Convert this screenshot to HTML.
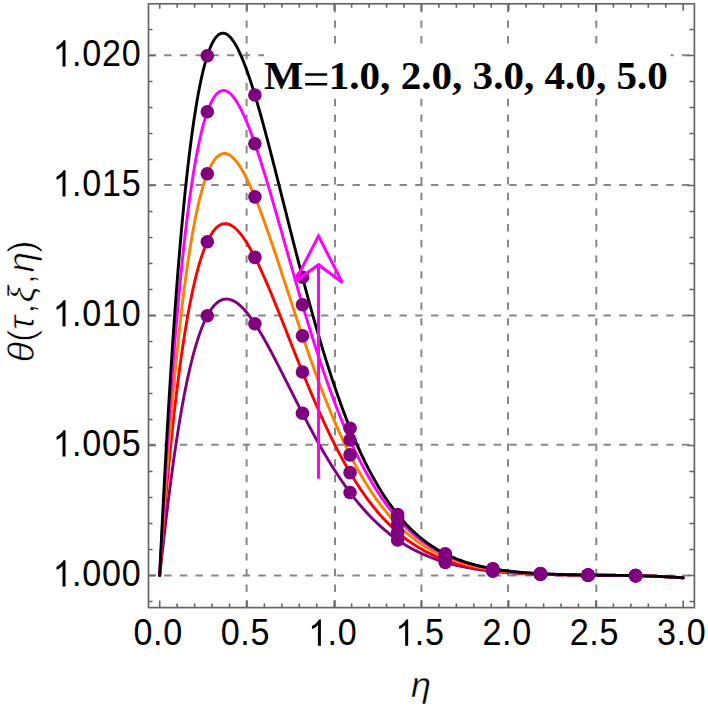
<!DOCTYPE html>
<html><head><meta charset="utf-8"><style>html,body{margin:0;padding:0;background:#fff;width:708px;height:707px;overflow:hidden}body{position:relative;font-family:"Liberation Sans",sans-serif}</style></head>
<body>
<svg width="708" height="707" viewBox="0 0 708 707" style="position:absolute;left:0;top:0">
<path d="M246.60 607.60V3.80M335.00 607.60V3.80M421.40 607.60V3.80M508.00 607.60V3.80M596.30 607.60V3.80" stroke="#888" stroke-width="2" stroke-dasharray="7.4 8.27" fill="none"/>
<path d="M148.5 575.40H694.40M148.5 444.80H694.40M148.5 315.60H694.40M148.5 185.00H694.40M148.5 55.30H694.40" stroke="#888" stroke-width="2" stroke-dasharray="7.4 8.29" fill="none"/>
<path d="M159.70 575.50 L159.92 573.65 L160.15 571.70 L160.37 569.72 L160.59 567.72 L160.82 565.71 L161.04 563.69 L161.27 561.67 L161.49 559.65 L161.71 557.63 L161.94 555.61 L162.16 553.59 L162.38 551.58 L162.61 549.57 L162.83 547.57 L163.06 545.57 L163.28 543.58 L163.50 541.59 L163.73 539.61 L163.95 537.63 L164.17 535.67 L164.40 533.71 L164.62 531.76 L164.85 529.81 L165.07 527.87 L165.29 525.94 L165.52 524.02 L165.74 522.11 L165.96 520.20 L166.19 518.31 L166.41 516.42 L166.64 514.54 L166.86 512.67 L167.08 510.80 L167.31 508.95 L167.53 507.10 L167.75 505.27 L167.98 503.44 L168.20 501.62 L168.42 499.81 L169.72 489.55 L171.01 479.59 L172.30 469.94 L173.59 460.60 L174.88 451.56 L176.17 442.84 L177.46 434.41 L178.75 426.30 L180.04 418.48 L181.33 410.95 L182.62 403.73 L183.91 396.79 L185.20 390.13 L186.49 383.76 L187.78 377.66 L189.07 371.83 L190.36 366.27 L191.65 360.97 L192.94 355.93 L194.23 351.14 L195.52 346.60 L196.81 342.30 L198.10 338.24 L199.39 334.41 L200.68 330.81 L201.97 327.44 L203.26 324.27 L204.55 321.33 L205.84 318.59 L207.13 316.05 L208.42 313.71 L209.71 311.56 L211.00 309.60 L212.29 307.83 L213.58 306.23 L214.87 304.81 L216.16 303.55 L217.45 302.46 L218.74 301.53 L220.03 300.76 L221.32 300.14 L222.61 299.66 L223.90 299.33 L225.19 299.13 L226.48 299.07 L227.77 299.14 L229.06 299.33 L230.35 299.65 L231.64 300.08 L232.93 300.62 L234.22 301.28 L235.51 302.04 L236.80 302.90 L238.09 303.86 L239.38 304.91 L240.67 306.06 L241.96 307.29 L243.25 308.61 L244.54 310.01 L245.83 311.48 L247.12 313.03 L248.42 314.65 L249.71 316.34 L251.00 318.10 L252.29 319.91 L253.58 321.78 L254.87 323.71 L256.16 325.70 L257.45 327.73 L258.74 329.81 L260.03 331.93 L261.32 334.10 L262.61 336.31 L263.90 338.55 L265.19 340.84 L266.48 343.15 L267.77 345.49 L269.06 347.86 L270.35 350.26 L271.64 352.68 L272.93 355.13 L274.22 357.59 L275.51 360.07 L276.80 362.57 L278.09 365.09 L279.38 367.61 L280.67 370.15 L281.96 372.69 L283.25 375.25 L284.54 377.81 L285.83 380.37 L287.12 382.94 L288.41 385.51 L289.70 388.07 L290.99 390.64 L292.28 393.21 L293.57 395.77 L294.86 398.33 L296.15 400.88 L297.44 403.42 L298.73 405.96 L300.02 408.49 L301.31 411.00 L302.60 413.51 L303.89 416.00 L305.18 418.49 L306.47 420.95 L307.76 423.41 L309.05 425.84 L310.34 428.27 L311.63 430.67 L312.92 433.06 L314.21 435.43 L315.50 437.78 L316.79 440.12 L318.08 442.43 L319.37 444.72 L320.66 446.99 L321.95 449.25 L323.24 451.48 L324.53 453.69 L325.82 455.87 L327.12 458.04 L328.41 460.18 L329.70 462.29 L330.99 464.39 L332.28 466.46 L333.57 468.51 L334.86 470.53 L336.15 472.53 L337.44 474.50 L338.73 476.45 L340.02 478.38 L341.31 480.28 L342.60 482.15 L343.89 484.00 L345.18 485.83 L346.47 487.63 L347.76 489.41 L349.05 491.16 L350.34 492.88 L351.63 494.58 L352.92 496.26 L354.21 497.91 L355.50 499.54 L356.79 501.14 L358.08 502.71 L359.37 504.26 L360.66 505.79 L361.95 507.29 L363.24 508.77 L364.53 510.23 L365.82 511.66 L367.11 513.07 L368.40 514.45 L369.69 515.81 L370.98 517.14 L372.27 518.46 L373.56 519.75 L374.85 521.01 L376.14 522.26 L377.43 523.48 L378.72 524.68 L380.01 525.86 L381.30 527.02 L382.59 528.15 L383.88 529.26 L385.17 530.36 L386.46 531.43 L387.75 532.48 L389.04 533.51 L390.33 534.52 L391.62 535.51 L392.91 536.48 L394.20 537.44 L395.49 538.37 L396.78 539.28 L398.07 540.18 L399.36 541.06 L400.65 541.92 L401.94 542.76 L403.23 543.58 L404.52 544.39 L405.81 545.18 L407.11 545.95 L408.40 546.70 L409.69 547.44 L410.98 548.17 L412.27 548.87 L413.56 549.57 L414.85 550.24 L416.14 550.91 L417.43 551.55 L418.72 552.18 L420.01 552.80 L421.30 553.41 L422.59 554.00 L423.88 554.57 L425.17 555.14 L426.46 555.69 L427.75 556.22 L429.04 556.75 L430.33 557.26 L431.62 557.76 L432.91 558.25 L434.20 558.73 L435.49 559.19 L436.78 559.65 L438.07 560.09 L439.36 560.52 L440.65 560.94 L441.94 561.35 L443.23 561.75 L444.52 562.14 L445.81 562.52 L447.10 562.90 L448.39 563.26 L449.68 563.61 L450.97 563.95 L452.26 564.29 L453.55 564.61 L454.84 564.93 L456.13 565.24 L457.42 565.54 L458.71 565.84 L460.00 566.12 L461.29 566.40 L462.58 566.67 L463.87 566.94 L465.16 567.19 L466.45 567.44 L467.74 567.68 L469.03 567.92 L470.32 568.15 L471.61 568.37 L472.90 568.59 L474.19 568.80 L475.48 569.01 L476.77 569.21 L478.06 569.40 L479.35 569.59 L480.64 569.78 L481.93 569.96 L483.22 570.13 L484.51 570.30 L485.81 570.46 L487.10 570.62 L488.39 570.77 L489.68 570.92 L490.97 571.07 L492.26 571.21 L493.55 571.35 L494.84 571.48 L496.13 571.61 L497.42 571.74 L498.71 571.86 L500.00 571.98 L501.29 572.09 L502.58 572.20 L503.87 572.31 L505.16 572.42 L506.45 572.52 L507.74 572.62 L509.03 572.71 L510.32 572.80 L511.61 572.89 L512.90 572.98 L514.19 573.07 L515.48 573.15 L516.77 573.23 L518.06 573.30 L519.35 573.38 L520.64 573.45 L521.93 573.52 L523.22 573.59 L524.51 573.65 L525.80 573.72 L527.09 573.78 L528.38 573.84 L529.67 573.89 L530.96 573.95 L532.25 574.00 L533.54 574.06 L534.83 574.11 L536.12 574.15 L537.41 574.20 L538.70 574.25 L539.99 574.29 L541.28 574.33 L542.57 574.38 L543.86 574.42 L545.15 574.45 L546.44 574.49 L547.73 574.53 L549.02 574.56 L550.31 574.60 L551.60 574.63 L552.89 574.66 L554.18 574.69 L555.47 574.72 L556.76 574.75 L558.05 574.78 L559.34 574.80 L560.63 574.83 L561.92 574.85 L563.21 574.88 L564.51 574.90 L565.80 574.92 L567.09 574.94 L568.38 574.96 L569.67 574.98 L570.96 575.00 L572.25 575.02 L573.54 575.04 L574.83 575.06 L576.12 575.07 L577.41 575.09 L578.70 575.11 L579.99 575.12 L581.28 575.13 L582.57 575.15 L583.86 575.16 L585.15 575.18 L586.44 575.19 L587.73 575.20 L589.02 575.21 L590.31 575.22 L591.60 575.23 L592.89 575.24 L594.18 575.25 L595.47 575.26 L596.76 575.27 L598.05 575.28 L599.34 575.29 L600.63 575.30 L601.92 575.31 L603.21 575.31 L604.50 575.32 L605.79 575.33 L607.08 575.34 L608.37 575.34 L609.66 575.35 L610.95 575.35 L612.24 575.36 L613.53 575.37 L614.82 575.37 L616.11 575.38 L617.40 575.39 L618.69 575.40 L619.98 575.41 L621.27 575.42 L622.56 575.44 L623.85 575.46 L625.14 575.47 L626.43 575.49 L627.72 575.51 L629.01 575.53 L630.30 575.56 L631.59 575.58 L632.88 575.61 L634.17 575.63 L635.46 575.66 L636.75 575.69 L638.04 575.73 L639.33 575.76 L640.62 575.79 L641.91 575.83 L643.20 575.87 L644.50 575.91 L645.79 575.95 L647.08 575.99 L648.37 576.03 L649.66 576.08 L650.95 576.13 L652.24 576.17 L653.53 576.22 L654.82 576.28 L656.11 576.33 L657.40 576.38 L658.69 576.44 L659.98 576.50 L661.27 576.55 L662.56 576.61 L663.85 576.68 L665.14 576.74 L666.43 576.80 L667.72 576.87 L669.01 576.94 L670.30 577.01 L671.59 577.08 L672.88 577.15 L674.17 577.23 L675.46 577.30 L676.75 577.38 L678.04 577.46 L679.33 577.54 L680.62 577.62 L681.91 577.70 L683.20 577.79" stroke="#800080" stroke-width="2.9" fill="none" stroke-linejoin="round" stroke-linecap="round"/>
<path d="M159.70 575.50 L159.92 572.05 L160.15 568.78 L160.37 565.60 L160.59 562.47 L160.82 559.39 L161.04 556.35 L161.27 553.34 L161.49 550.36 L161.71 547.41 L161.94 544.49 L162.16 541.59 L162.38 538.72 L162.61 535.88 L162.83 533.05 L163.06 530.25 L163.28 527.47 L163.50 524.71 L163.73 521.98 L163.95 519.26 L164.17 516.56 L164.40 513.88 L164.62 511.23 L164.85 508.59 L165.07 505.97 L165.29 503.36 L165.52 500.78 L165.74 498.21 L165.96 495.66 L166.19 493.13 L166.41 490.62 L166.64 488.12 L166.86 485.64 L167.08 483.18 L167.31 480.73 L167.53 478.30 L167.75 475.89 L167.98 473.49 L168.20 471.11 L168.42 468.74 L169.72 455.40 L171.01 442.57 L172.30 430.23 L173.59 418.35 L174.88 406.94 L176.17 395.97 L177.46 385.44 L178.75 375.32 L180.04 365.62 L181.33 356.33 L182.62 347.42 L183.91 338.91 L185.20 330.76 L186.49 322.98 L187.78 315.56 L189.07 308.50 L190.36 301.77 L191.65 295.38 L192.94 289.31 L194.23 283.56 L195.52 278.13 L196.81 273.00 L198.10 268.16 L199.39 263.62 L200.68 259.36 L201.97 255.37 L203.26 251.66 L204.55 248.21 L205.84 245.01 L207.13 242.07 L208.42 239.37 L209.71 236.90 L211.00 234.67 L212.29 232.66 L213.58 230.87 L214.87 229.30 L216.16 227.93 L217.45 226.76 L218.74 225.79 L220.03 225.01 L221.32 224.41 L222.61 223.99 L223.90 223.74 L225.19 223.67 L226.48 223.75 L227.77 224.00 L229.06 224.39 L230.35 224.94 L231.64 225.63 L232.93 226.45 L234.22 227.41 L235.51 228.50 L236.80 229.71 L238.09 231.04 L239.38 232.49 L240.67 234.05 L241.96 235.71 L243.25 237.48 L244.54 239.34 L245.83 241.30 L247.12 243.35 L248.42 245.48 L249.71 247.70 L251.00 249.99 L252.29 252.36 L253.58 254.81 L254.87 257.32 L256.16 259.89 L257.45 262.53 L258.74 265.22 L260.03 267.97 L261.32 270.77 L262.61 273.62 L263.90 276.51 L265.19 279.45 L266.48 282.42 L267.77 285.43 L269.06 288.48 L270.35 291.56 L271.64 294.67 L272.93 297.80 L274.22 300.96 L275.51 304.14 L276.80 307.34 L278.09 310.55 L279.38 313.78 L280.67 317.03 L281.96 320.28 L283.25 323.54 L284.54 326.81 L285.83 330.08 L287.12 333.36 L288.41 336.64 L289.70 339.92 L290.99 343.19 L292.28 346.47 L293.57 349.73 L294.86 352.99 L296.15 356.24 L297.44 359.49 L298.73 362.72 L300.02 365.94 L301.31 369.14 L302.60 372.33 L303.89 375.51 L305.18 378.67 L306.47 381.81 L307.76 384.93 L309.05 388.03 L310.34 391.11 L311.63 394.17 L312.92 397.21 L314.21 400.22 L315.50 403.21 L316.79 406.18 L318.08 409.12 L319.37 412.03 L320.66 414.92 L321.95 417.78 L323.24 420.61 L324.53 423.42 L325.82 426.19 L327.12 428.94 L328.41 431.66 L329.70 434.35 L330.99 437.00 L332.28 439.63 L333.57 442.23 L334.86 444.79 L336.15 447.33 L337.44 449.83 L338.73 452.30 L340.02 454.74 L341.31 457.15 L342.60 459.53 L343.89 461.87 L345.18 464.18 L346.47 466.46 L347.76 468.71 L349.05 470.92 L350.34 473.11 L351.63 475.26 L352.92 477.37 L354.21 479.46 L355.50 481.52 L356.79 483.54 L358.08 485.53 L359.37 487.49 L360.66 489.42 L361.95 491.31 L363.24 493.18 L364.53 495.01 L365.82 496.82 L367.11 498.59 L368.40 500.33 L369.69 502.04 L370.98 503.73 L372.27 505.38 L373.56 507.00 L374.85 508.60 L376.14 510.16 L377.43 511.70 L378.72 513.20 L380.01 514.68 L381.30 516.14 L382.59 517.56 L383.88 518.96 L385.17 520.33 L386.46 521.67 L387.75 522.99 L389.04 524.28 L390.33 525.54 L391.62 526.78 L392.91 528.00 L394.20 529.19 L395.49 530.35 L396.78 531.49 L398.07 532.61 L399.36 533.71 L400.65 534.78 L401.94 535.82 L403.23 536.85 L404.52 537.85 L405.81 538.84 L407.11 539.80 L408.40 540.73 L409.69 541.65 L410.98 542.55 L412.27 543.43 L413.56 544.29 L414.85 545.13 L416.14 545.94 L417.43 546.75 L418.72 547.53 L420.01 548.29 L421.30 549.04 L422.59 549.77 L423.88 550.48 L425.17 551.17 L426.46 551.85 L427.75 552.51 L429.04 553.16 L430.33 553.79 L431.62 554.40 L432.91 555.00 L434.20 555.58 L435.49 556.15 L436.78 556.71 L438.07 557.25 L439.36 557.78 L440.65 558.29 L441.94 558.79 L443.23 559.28 L444.52 559.76 L445.81 560.22 L447.10 560.68 L448.39 561.12 L449.68 561.54 L450.97 561.96 L452.26 562.37 L453.55 562.76 L454.84 563.15 L456.13 563.52 L457.42 563.89 L458.71 564.24 L460.00 564.59 L461.29 564.92 L462.58 565.25 L463.87 565.56 L465.16 565.87 L466.45 566.17 L467.74 566.46 L469.03 566.75 L470.32 567.02 L471.61 567.29 L472.90 567.55 L474.19 567.80 L475.48 568.05 L476.77 568.29 L478.06 568.52 L479.35 568.74 L480.64 568.96 L481.93 569.17 L483.22 569.38 L484.51 569.58 L485.81 569.77 L487.10 569.96 L488.39 570.14 L489.68 570.32 L490.97 570.49 L492.26 570.65 L493.55 570.82 L494.84 570.97 L496.13 571.12 L497.42 571.27 L498.71 571.41 L500.00 571.55 L501.29 571.69 L502.58 571.81 L503.87 571.94 L505.16 572.06 L506.45 572.18 L507.74 572.29 L509.03 572.40 L510.32 572.51 L511.61 572.62 L512.90 572.72 L514.19 572.81 L515.48 572.91 L516.77 573.00 L518.06 573.09 L519.35 573.17 L520.64 573.25 L521.93 573.33 L523.22 573.41 L524.51 573.48 L525.80 573.56 L527.09 573.63 L528.38 573.69 L529.67 573.76 L530.96 573.82 L532.25 573.88 L533.54 573.94 L534.83 574.00 L536.12 574.05 L537.41 574.11 L538.70 574.16 L539.99 574.21 L541.28 574.25 L542.57 574.30 L543.86 574.35 L545.15 574.39 L546.44 574.43 L547.73 574.47 L549.02 574.51 L550.31 574.55 L551.60 574.58 L552.89 574.62 L554.18 574.65 L555.47 574.68 L556.76 574.71 L558.05 574.74 L559.34 574.77 L560.63 574.80 L561.92 574.83 L563.21 574.85 L564.51 574.88 L565.80 574.90 L567.09 574.93 L568.38 574.95 L569.67 574.97 L570.96 574.99 L572.25 575.01 L573.54 575.03 L574.83 575.05 L576.12 575.07 L577.41 575.08 L578.70 575.10 L579.99 575.12 L581.28 575.13 L582.57 575.15 L583.86 575.16 L585.15 575.17 L586.44 575.19 L587.73 575.20 L589.02 575.21 L590.31 575.22 L591.60 575.23 L592.89 575.25 L594.18 575.26 L595.47 575.27 L596.76 575.28 L598.05 575.28 L599.34 575.29 L600.63 575.30 L601.92 575.31 L603.21 575.32 L604.50 575.33 L605.79 575.33 L607.08 575.34 L608.37 575.35 L609.66 575.35 L610.95 575.36 L612.24 575.37 L613.53 575.37 L614.82 575.38 L616.11 575.39 L617.40 575.39 L618.69 575.40 L619.98 575.42 L621.27 575.43 L622.56 575.44 L623.85 575.46 L625.14 575.48 L626.43 575.50 L627.72 575.52 L629.01 575.54 L630.30 575.56 L631.59 575.59 L632.88 575.61 L634.17 575.64 L635.46 575.67 L636.75 575.70 L638.04 575.73 L639.33 575.76 L640.62 575.80 L641.91 575.84 L643.20 575.87 L644.50 575.91 L645.79 575.95 L647.08 575.99 L648.37 576.04 L649.66 576.08 L650.95 576.13 L652.24 576.18 L653.53 576.23 L654.82 576.28 L656.11 576.33 L657.40 576.39 L658.69 576.44 L659.98 576.50 L661.27 576.56 L662.56 576.62 L663.85 576.68 L665.14 576.74 L666.43 576.81 L667.72 576.87 L669.01 576.94 L670.30 577.01 L671.59 577.08 L672.88 577.15 L674.17 577.23 L675.46 577.30 L676.75 577.38 L678.04 577.46 L679.33 577.54 L680.62 577.62 L681.91 577.70 L683.20 577.79" stroke="#ff0000" stroke-width="2.9" fill="none" stroke-linejoin="round" stroke-linecap="round"/>
<path d="M159.70 575.50 L159.92 571.88 L160.15 568.29 L160.37 564.73 L160.59 561.19 L160.82 557.67 L161.04 554.18 L161.27 550.71 L161.49 547.25 L161.71 543.82 L161.94 540.41 L162.16 537.01 L162.38 533.64 L162.61 530.29 L162.83 526.96 L163.06 523.64 L163.28 520.35 L163.50 517.08 L163.73 513.82 L163.95 510.59 L164.17 507.37 L164.40 504.17 L164.62 500.99 L164.85 497.84 L165.07 494.69 L165.29 491.57 L165.52 488.47 L165.74 485.38 L165.96 482.32 L166.19 479.27 L166.41 476.24 L166.64 473.23 L166.86 470.24 L167.08 467.26 L167.31 464.31 L167.53 461.37 L167.75 458.45 L167.98 455.55 L168.20 452.66 L168.42 449.80 L169.72 433.61 L171.01 418.01 L172.30 402.97 L173.59 388.48 L174.88 374.55 L176.17 361.15 L177.46 348.27 L178.75 335.91 L180.04 324.05 L181.33 312.69 L182.62 301.81 L183.91 291.40 L185.20 281.46 L186.49 271.97 L187.78 262.93 L189.07 254.32 L190.36 246.13 L191.65 238.36 L192.94 231.00 L194.23 224.03 L195.52 217.45 L196.81 211.25 L198.10 205.42 L199.39 199.95 L200.68 194.84 L201.97 190.06 L203.26 185.62 L204.55 181.51 L205.84 177.71 L207.13 174.23 L208.42 171.04 L209.71 168.15 L211.00 165.54 L212.29 163.21 L213.58 161.15 L214.87 159.35 L216.16 157.81 L217.45 156.51 L218.74 155.46 L220.03 154.63 L221.32 154.03 L222.61 153.65 L223.90 153.48 L225.19 153.52 L226.48 153.75 L227.77 154.17 L229.06 154.78 L230.35 155.57 L231.64 156.53 L232.93 157.65 L234.22 158.94 L235.51 160.38 L236.80 161.97 L238.09 163.70 L239.38 165.57 L240.67 167.57 L241.96 169.69 L243.25 171.94 L244.54 174.30 L245.83 176.78 L247.12 179.36 L248.42 182.04 L249.71 184.81 L251.00 187.68 L252.29 190.64 L253.58 193.68 L254.87 196.79 L256.16 199.99 L257.45 203.25 L258.74 206.57 L260.03 209.96 L261.32 213.41 L262.61 216.91 L263.90 220.47 L265.19 224.07 L266.48 227.71 L267.77 231.40 L269.06 235.12 L270.35 238.88 L271.64 242.66 L272.93 246.48 L274.22 250.32 L275.51 254.18 L276.80 258.06 L278.09 261.96 L279.38 265.87 L280.67 269.80 L281.96 273.73 L283.25 277.67 L284.54 281.62 L285.83 285.57 L287.12 289.51 L288.41 293.46 L289.70 297.40 L290.99 301.34 L292.28 305.27 L293.57 309.19 L294.86 313.10 L296.15 316.99 L297.44 320.88 L298.73 324.74 L300.02 328.59 L301.31 332.42 L302.60 336.23 L303.89 340.02 L305.18 343.79 L306.47 347.53 L307.76 351.25 L309.05 354.94 L310.34 358.60 L311.63 362.24 L312.92 365.85 L314.21 369.43 L315.50 372.98 L316.79 376.50 L318.08 379.98 L319.37 383.44 L320.66 386.85 L321.95 390.24 L323.24 393.59 L324.53 396.91 L325.82 400.19 L327.12 403.44 L328.41 406.65 L329.70 409.82 L330.99 412.95 L332.28 416.05 L333.57 419.11 L334.86 422.14 L336.15 425.12 L337.44 428.07 L338.73 430.98 L340.02 433.85 L341.31 436.68 L342.60 439.47 L343.89 442.23 L345.18 444.94 L346.47 447.62 L347.76 450.26 L349.05 452.86 L350.34 455.42 L351.63 457.94 L352.92 460.43 L354.21 462.87 L355.50 465.28 L356.79 467.65 L358.08 469.98 L359.37 472.28 L360.66 474.54 L361.95 476.76 L363.24 478.94 L364.53 481.09 L365.82 483.19 L367.11 485.27 L368.40 487.31 L369.69 489.31 L370.98 491.27 L372.27 493.21 L373.56 495.10 L374.85 496.97 L376.14 498.79 L377.43 500.59 L378.72 502.35 L380.01 504.08 L381.30 505.77 L382.59 507.44 L383.88 509.07 L385.17 510.67 L386.46 512.23 L387.75 513.77 L389.04 515.28 L390.33 516.76 L391.62 518.20 L392.91 519.62 L394.20 521.01 L395.49 522.37 L396.78 523.70 L398.07 525.00 L399.36 526.28 L400.65 527.53 L401.94 528.75 L403.23 529.95 L404.52 531.12 L405.81 532.27 L407.11 533.39 L408.40 534.49 L409.69 535.56 L410.98 536.61 L412.27 537.63 L413.56 538.63 L414.85 539.61 L416.14 540.57 L417.43 541.51 L418.72 542.42 L420.01 543.31 L421.30 544.18 L422.59 545.03 L423.88 545.87 L425.17 546.68 L426.46 547.47 L427.75 548.24 L429.04 549.00 L430.33 549.74 L431.62 550.45 L432.91 551.16 L434.20 551.84 L435.49 552.51 L436.78 553.16 L438.07 553.79 L439.36 554.41 L440.65 555.02 L441.94 555.60 L443.23 556.18 L444.52 556.74 L445.81 557.28 L447.10 557.81 L448.39 558.33 L449.68 558.83 L450.97 559.32 L452.26 559.80 L453.55 560.26 L454.84 560.72 L456.13 561.16 L457.42 561.58 L458.71 562.00 L460.00 562.41 L461.29 562.80 L462.58 563.19 L463.87 563.56 L465.16 563.93 L466.45 564.28 L467.74 564.62 L469.03 564.96 L470.32 565.28 L471.61 565.60 L472.90 565.91 L474.19 566.21 L475.48 566.50 L476.77 566.78 L478.06 567.05 L479.35 567.32 L480.64 567.58 L481.93 567.83 L483.22 568.07 L484.51 568.31 L485.81 568.54 L487.10 568.76 L488.39 568.98 L489.68 569.19 L490.97 569.40 L492.26 569.59 L493.55 569.79 L494.84 569.97 L496.13 570.15 L497.42 570.33 L498.71 570.50 L500.00 570.67 L501.29 570.83 L502.58 570.98 L503.87 571.13 L505.16 571.28 L506.45 571.42 L507.74 571.56 L509.03 571.69 L510.32 571.82 L511.61 571.94 L512.90 572.06 L514.19 572.18 L515.48 572.29 L516.77 572.40 L518.06 572.51 L519.35 572.61 L520.64 572.71 L521.93 572.81 L523.22 572.90 L524.51 572.99 L525.80 573.08 L527.09 573.17 L528.38 573.25 L529.67 573.33 L530.96 573.40 L532.25 573.48 L533.54 573.55 L534.83 573.62 L536.12 573.69 L537.41 573.75 L538.70 573.81 L539.99 573.87 L541.28 573.93 L542.57 573.99 L543.86 574.04 L545.15 574.10 L546.44 574.15 L547.73 574.20 L549.02 574.24 L550.31 574.29 L551.60 574.33 L552.89 574.38 L554.18 574.42 L555.47 574.46 L556.76 574.50 L558.05 574.53 L559.34 574.57 L560.63 574.60 L561.92 574.64 L563.21 574.67 L564.51 574.70 L565.80 574.73 L567.09 574.76 L568.38 574.79 L569.67 574.82 L570.96 574.84 L572.25 574.87 L573.54 574.89 L574.83 574.91 L576.12 574.94 L577.41 574.96 L578.70 574.98 L579.99 575.00 L581.28 575.02 L582.57 575.04 L583.86 575.06 L585.15 575.07 L586.44 575.09 L587.73 575.11 L589.02 575.12 L590.31 575.14 L591.60 575.15 L592.89 575.16 L594.18 575.18 L595.47 575.19 L596.76 575.20 L598.05 575.21 L599.34 575.23 L600.63 575.24 L601.92 575.25 L603.21 575.26 L604.50 575.27 L605.79 575.28 L607.08 575.29 L608.37 575.29 L609.66 575.30 L610.95 575.31 L612.24 575.32 L613.53 575.33 L614.82 575.33 L616.11 575.34 L617.40 575.35 L618.69 575.37 L619.98 575.38 L621.27 575.39 L622.56 575.41 L623.85 575.43 L625.14 575.45 L626.43 575.47 L627.72 575.49 L629.01 575.51 L630.30 575.53 L631.59 575.56 L632.88 575.59 L634.17 575.62 L635.46 575.65 L636.75 575.68 L638.04 575.71 L639.33 575.74 L640.62 575.78 L641.91 575.82 L643.20 575.85 L644.50 575.89 L645.79 575.94 L647.08 575.98 L648.37 576.02 L649.66 576.07 L650.95 576.12 L652.24 576.16 L653.53 576.21 L654.82 576.27 L656.11 576.32 L657.40 576.37 L658.69 576.43 L659.98 576.49 L661.27 576.55 L662.56 576.61 L663.85 576.67 L665.14 576.73 L666.43 576.80 L667.72 576.87 L669.01 576.93 L670.30 577.00 L671.59 577.07 L672.88 577.15 L674.17 577.22 L675.46 577.30 L676.75 577.37 L678.04 577.45 L679.33 577.53 L680.62 577.62 L681.91 577.70 L683.20 577.78" stroke="#ff8000" stroke-width="2.9" fill="none" stroke-linejoin="round" stroke-linecap="round"/>
<path d="M159.70 575.50 L159.92 571.33 L160.15 567.18 L160.37 563.05 L160.59 558.94 L160.82 554.85 L161.04 550.79 L161.27 546.75 L161.49 542.73 L161.71 538.73 L161.94 534.76 L162.16 530.81 L162.38 526.88 L162.61 522.97 L162.83 519.09 L163.06 515.23 L163.28 511.39 L163.50 507.57 L163.73 503.78 L163.95 500.01 L164.17 496.26 L164.40 492.53 L164.62 488.82 L164.85 485.14 L165.07 481.48 L165.29 477.84 L165.52 474.22 L165.74 470.63 L165.96 467.05 L166.19 463.50 L166.41 459.97 L166.64 456.46 L166.86 452.98 L167.08 449.51 L167.31 446.07 L167.53 442.64 L167.75 439.24 L167.98 435.86 L168.20 432.50 L168.42 429.16 L169.72 410.32 L171.01 392.16 L172.30 374.67 L173.59 357.85 L174.88 341.67 L176.17 326.13 L177.46 311.21 L178.75 296.90 L180.04 283.19 L181.33 270.06 L182.62 257.51 L183.91 245.51 L185.20 234.07 L186.49 223.16 L187.78 212.78 L189.07 202.91 L190.36 193.54 L191.65 184.66 L192.94 176.26 L194.23 168.32 L195.52 160.85 L196.81 153.81 L198.10 147.21 L199.39 141.03 L200.68 135.27 L201.97 129.90 L203.26 124.93 L204.55 120.34 L205.84 116.11 L207.13 112.25 L208.42 108.74 L209.71 105.57 L211.00 102.73 L212.29 100.21 L213.58 98.01 L214.87 96.10 L216.16 94.49 L217.45 93.17 L218.74 92.12 L220.03 91.34 L221.32 90.82 L222.61 90.55 L223.90 90.52 L225.19 90.73 L226.48 91.16 L227.77 91.81 L229.06 92.68 L230.35 93.74 L231.64 95.01 L232.93 96.46 L234.22 98.09 L235.51 99.90 L236.80 101.87 L238.09 104.01 L239.38 106.30 L240.67 108.74 L241.96 111.32 L243.25 114.04 L244.54 116.89 L245.83 119.86 L247.12 122.95 L248.42 126.15 L249.71 129.46 L251.00 132.87 L252.29 136.38 L253.58 139.98 L254.87 143.67 L256.16 147.43 L257.45 151.28 L258.74 155.19 L260.03 159.17 L261.32 163.22 L262.61 167.32 L263.90 171.48 L265.19 175.69 L266.48 179.95 L267.77 184.25 L269.06 188.59 L270.35 192.96 L271.64 197.37 L272.93 201.80 L274.22 206.26 L275.51 210.74 L276.80 215.24 L278.09 219.76 L279.38 224.29 L280.67 228.83 L281.96 233.37 L283.25 237.93 L284.54 242.48 L285.83 247.03 L287.12 251.58 L288.41 256.13 L289.70 260.67 L290.99 265.19 L292.28 269.71 L293.57 274.22 L294.86 278.70 L296.15 283.18 L297.44 287.63 L298.73 292.06 L300.02 296.47 L301.31 300.86 L302.60 305.22 L303.89 309.55 L305.18 313.86 L306.47 318.14 L307.76 322.38 L309.05 326.60 L310.34 330.78 L311.63 334.93 L312.92 339.05 L314.21 343.13 L315.50 347.17 L316.79 351.18 L318.08 355.14 L319.37 359.07 L320.66 362.96 L321.95 366.81 L323.24 370.62 L324.53 374.39 L325.82 378.12 L327.12 381.80 L328.41 385.44 L329.70 389.04 L330.99 392.60 L332.28 396.11 L333.57 399.58 L334.86 403.00 L336.15 406.38 L337.44 409.72 L338.73 413.01 L340.02 416.26 L341.31 419.46 L342.60 422.62 L343.89 425.73 L345.18 428.80 L346.47 431.83 L347.76 434.81 L349.05 437.74 L350.34 440.63 L351.63 443.48 L352.92 446.28 L354.21 449.04 L355.50 451.76 L356.79 454.43 L358.08 457.06 L359.37 459.65 L360.66 462.19 L361.95 464.69 L363.24 467.15 L364.53 469.56 L365.82 471.94 L367.11 474.27 L368.40 476.56 L369.69 478.82 L370.98 481.03 L372.27 483.20 L373.56 485.33 L374.85 487.43 L376.14 489.48 L377.43 491.50 L378.72 493.47 L380.01 495.42 L381.30 497.32 L382.59 499.19 L383.88 501.02 L385.17 502.81 L386.46 504.57 L387.75 506.30 L389.04 507.99 L390.33 509.64 L391.62 511.27 L392.91 512.86 L394.20 514.41 L395.49 515.94 L396.78 517.43 L398.07 518.89 L399.36 520.33 L400.65 521.73 L401.94 523.10 L403.23 524.44 L404.52 525.75 L405.81 527.04 L407.11 528.29 L408.40 529.52 L409.69 530.72 L410.98 531.89 L412.27 533.04 L413.56 534.16 L414.85 535.26 L416.14 536.33 L417.43 537.38 L418.72 538.40 L420.01 539.40 L421.30 540.38 L422.59 541.33 L423.88 542.26 L425.17 543.17 L426.46 544.06 L427.75 544.92 L429.04 545.77 L430.33 546.59 L431.62 547.40 L432.91 548.18 L434.20 548.95 L435.49 549.69 L436.78 550.42 L438.07 551.13 L439.36 551.82 L440.65 552.50 L441.94 553.16 L443.23 553.80 L444.52 554.42 L445.81 555.03 L447.10 555.63 L448.39 556.21 L449.68 556.77 L450.97 557.32 L452.26 557.85 L453.55 558.37 L454.84 558.88 L456.13 559.37 L457.42 559.85 L458.71 560.32 L460.00 560.77 L461.29 561.22 L462.58 561.65 L463.87 562.07 L465.16 562.47 L466.45 562.87 L467.74 563.26 L469.03 563.63 L470.32 563.99 L471.61 564.35 L472.90 564.69 L474.19 565.03 L475.48 565.35 L476.77 565.67 L478.06 565.98 L479.35 566.28 L480.64 566.57 L481.93 566.85 L483.22 567.12 L484.51 567.39 L485.81 567.65 L487.10 567.90 L488.39 568.14 L489.68 568.38 L490.97 568.61 L492.26 568.83 L493.55 569.04 L494.84 569.25 L496.13 569.46 L497.42 569.65 L498.71 569.85 L500.00 570.03 L501.29 570.21 L502.58 570.39 L503.87 570.55 L505.16 570.72 L506.45 570.88 L507.74 571.03 L509.03 571.18 L510.32 571.33 L511.61 571.47 L512.90 571.60 L514.19 571.73 L515.48 571.86 L516.77 571.99 L518.06 572.11 L519.35 572.22 L520.64 572.33 L521.93 572.44 L523.22 572.55 L524.51 572.65 L525.80 572.75 L527.09 572.84 L528.38 572.94 L529.67 573.03 L530.96 573.11 L532.25 573.20 L533.54 573.28 L534.83 573.35 L536.12 573.43 L537.41 573.50 L538.70 573.57 L539.99 573.64 L541.28 573.71 L542.57 573.77 L543.86 573.84 L545.15 573.90 L546.44 573.95 L547.73 574.01 L549.02 574.06 L550.31 574.11 L551.60 574.17 L552.89 574.21 L554.18 574.26 L555.47 574.31 L556.76 574.35 L558.05 574.39 L559.34 574.43 L560.63 574.47 L561.92 574.51 L563.21 574.55 L564.51 574.58 L565.80 574.62 L567.09 574.65 L568.38 574.68 L569.67 574.71 L570.96 574.74 L572.25 574.77 L573.54 574.80 L574.83 574.83 L576.12 574.85 L577.41 574.88 L578.70 574.90 L579.99 574.92 L581.28 574.94 L582.57 574.97 L583.86 574.99 L585.15 575.01 L586.44 575.03 L587.73 575.04 L589.02 575.06 L590.31 575.08 L591.60 575.09 L592.89 575.11 L594.18 575.13 L595.47 575.14 L596.76 575.15 L598.05 575.17 L599.34 575.18 L600.63 575.19 L601.92 575.21 L603.21 575.22 L604.50 575.23 L605.79 575.24 L607.08 575.25 L608.37 575.26 L609.66 575.27 L610.95 575.28 L612.24 575.29 L613.53 575.30 L614.82 575.31 L616.11 575.32 L617.40 575.33 L618.69 575.34 L619.98 575.36 L621.27 575.37 L622.56 575.39 L623.85 575.41 L625.14 575.43 L626.43 575.45 L627.72 575.47 L629.01 575.49 L630.30 575.52 L631.59 575.54 L632.88 575.57 L634.17 575.60 L635.46 575.63 L636.75 575.66 L638.04 575.70 L639.33 575.73 L640.62 575.77 L641.91 575.80 L643.20 575.84 L644.50 575.88 L645.79 575.92 L647.08 575.97 L648.37 576.01 L649.66 576.06 L650.95 576.11 L652.24 576.16 L653.53 576.21 L654.82 576.26 L656.11 576.31 L657.40 576.37 L658.69 576.42 L659.98 576.48 L661.27 576.54 L662.56 576.60 L663.85 576.66 L665.14 576.73 L666.43 576.79 L667.72 576.86 L669.01 576.93 L670.30 577.00 L671.59 577.07 L672.88 577.14 L674.17 577.22 L675.46 577.29 L676.75 577.37 L678.04 577.45 L679.33 577.53 L680.62 577.61 L681.91 577.70 L683.20 577.78" stroke="#ff00ff" stroke-width="2.9" fill="none" stroke-linejoin="round" stroke-linecap="round"/>
<path d="M159.70 575.50 L159.92 570.69 L160.15 565.94 L160.37 561.22 L160.59 556.54 L160.82 551.89 L161.04 547.27 L161.27 542.68 L161.49 538.12 L161.71 533.59 L161.94 529.09 L162.16 524.61 L162.38 520.17 L162.61 515.75 L162.83 511.35 L163.06 506.99 L163.28 502.65 L163.50 498.34 L163.73 494.05 L163.95 489.80 L164.17 485.56 L164.40 481.36 L164.62 477.18 L164.85 473.02 L165.07 468.90 L165.29 464.79 L165.52 460.72 L165.74 456.66 L165.96 452.64 L166.19 448.64 L166.41 444.66 L166.64 440.71 L166.86 436.78 L167.08 432.88 L167.31 429.01 L167.53 425.15 L167.75 421.33 L167.98 417.52 L168.20 413.75 L168.42 409.99 L169.72 388.81 L171.01 368.41 L172.30 348.79 L173.59 329.91 L174.88 311.78 L176.17 294.36 L177.46 277.66 L178.75 261.64 L180.04 246.30 L181.33 231.63 L182.62 217.60 L183.91 204.20 L185.20 191.43 L186.49 179.26 L187.78 167.68 L189.07 156.69 L190.36 146.25 L191.65 136.37 L192.94 127.03 L194.23 118.22 L195.52 109.91 L196.81 102.11 L198.10 94.80 L199.39 87.96 L200.68 81.59 L201.97 75.66 L203.26 70.18 L204.55 65.13 L205.84 60.49 L207.13 56.25 L208.42 52.41 L209.71 48.96 L211.00 45.87 L212.29 43.15 L213.58 40.78 L214.87 38.74 L216.16 37.04 L217.45 35.66 L218.74 34.58 L220.03 33.81 L221.32 33.33 L222.61 33.12 L223.90 33.19 L225.19 33.53 L226.48 34.11 L227.77 34.94 L229.06 36.01 L230.35 37.30 L231.64 38.82 L232.93 40.54 L234.22 42.47 L235.51 44.59 L236.80 46.90 L238.09 49.39 L239.38 52.06 L240.67 54.88 L241.96 57.87 L243.25 61.01 L244.54 64.29 L245.83 67.71 L247.12 71.26 L248.42 74.93 L249.71 78.73 L251.00 82.63 L252.29 86.65 L253.58 90.76 L254.87 94.97 L256.16 99.27 L257.45 103.65 L258.74 108.12 L260.03 112.65 L261.32 117.26 L262.61 121.93 L263.90 126.66 L265.19 131.44 L266.48 136.28 L267.77 141.16 L269.06 146.08 L270.35 151.04 L271.64 156.04 L272.93 161.06 L274.22 166.11 L275.51 171.19 L276.80 176.28 L278.09 181.39 L279.38 186.51 L280.67 191.64 L281.96 196.78 L283.25 201.92 L284.54 207.06 L285.83 212.20 L287.12 217.34 L288.41 222.46 L289.70 227.58 L290.99 232.69 L292.28 237.78 L293.57 242.85 L294.86 247.90 L296.15 252.93 L297.44 257.94 L298.73 262.93 L300.02 267.89 L301.31 272.82 L302.60 277.72 L303.89 282.59 L305.18 287.42 L306.47 292.22 L307.76 296.99 L309.05 301.72 L310.34 306.41 L311.63 311.06 L312.92 315.67 L314.21 320.24 L315.50 324.77 L316.79 329.25 L318.08 333.69 L319.37 338.08 L320.66 342.43 L321.95 346.74 L323.24 350.99 L324.53 355.20 L325.82 359.36 L327.12 363.47 L328.41 367.54 L329.70 371.55 L330.99 375.52 L332.28 379.43 L333.57 383.30 L334.86 387.11 L336.15 390.87 L337.44 394.59 L338.73 398.25 L340.02 401.86 L341.31 405.42 L342.60 408.93 L343.89 412.39 L345.18 415.80 L346.47 419.15 L347.76 422.46 L349.05 425.71 L350.34 428.92 L351.63 432.07 L352.92 435.18 L354.21 438.23 L355.50 441.24 L356.79 444.19 L358.08 447.10 L359.37 449.96 L360.66 452.77 L361.95 455.53 L363.24 458.24 L364.53 460.91 L365.82 463.53 L367.11 466.10 L368.40 468.63 L369.69 471.11 L370.98 473.55 L372.27 475.94 L373.56 478.28 L374.85 480.58 L376.14 482.84 L377.43 485.06 L378.72 487.23 L380.01 489.36 L381.30 491.45 L382.59 493.50 L383.88 495.50 L385.17 497.47 L386.46 499.40 L387.75 501.29 L389.04 503.14 L390.33 504.95 L391.62 506.72 L392.91 508.46 L394.20 510.16 L395.49 511.82 L396.78 513.45 L398.07 515.05 L399.36 516.61 L400.65 518.13 L401.94 519.62 L403.23 521.08 L404.52 522.51 L405.81 523.91 L407.11 525.27 L408.40 526.60 L409.69 527.91 L410.98 529.18 L412.27 530.43 L413.56 531.64 L414.85 532.83 L416.14 533.99 L417.43 535.12 L418.72 536.23 L420.01 537.31 L421.30 538.36 L422.59 539.39 L423.88 540.39 L425.17 541.37 L426.46 542.33 L427.75 543.26 L429.04 544.17 L430.33 545.06 L431.62 545.92 L432.91 546.77 L434.20 547.59 L435.49 548.39 L436.78 549.17 L438.07 549.93 L439.36 550.68 L440.65 551.40 L441.94 552.10 L443.23 552.79 L444.52 553.46 L445.81 554.11 L447.10 554.74 L448.39 555.36 L449.68 555.96 L450.97 556.54 L452.26 557.11 L453.55 557.67 L454.84 558.21 L456.13 558.73 L457.42 559.24 L458.71 559.74 L460.00 560.22 L461.29 560.69 L462.58 561.14 L463.87 561.59 L465.16 562.02 L466.45 562.44 L467.74 562.85 L469.03 563.24 L470.32 563.63 L471.61 564.00 L472.90 564.36 L474.19 564.72 L475.48 565.06 L476.77 565.39 L478.06 565.71 L479.35 566.03 L480.64 566.33 L481.93 566.63 L483.22 566.91 L484.51 567.19 L485.81 567.46 L487.10 567.73 L488.39 567.98 L489.68 568.23 L490.97 568.47 L492.26 568.70 L493.55 568.92 L494.84 569.14 L496.13 569.35 L497.42 569.56 L498.71 569.76 L500.00 569.95 L501.29 570.14 L502.58 570.32 L503.87 570.49 L505.16 570.66 L506.45 570.83 L507.74 570.99 L509.03 571.14 L510.32 571.29 L511.61 571.44 L512.90 571.58 L514.19 571.71 L515.48 571.84 L516.77 571.97 L518.06 572.09 L519.35 572.21 L520.64 572.33 L521.93 572.44 L523.22 572.55 L524.51 572.65 L525.80 572.75 L527.09 572.85 L528.38 572.94 L529.67 573.03 L530.96 573.12 L532.25 573.21 L533.54 573.29 L534.83 573.37 L536.12 573.45 L537.41 573.52 L538.70 573.59 L539.99 573.66 L541.28 573.73 L542.57 573.79 L543.86 573.86 L545.15 573.92 L546.44 573.98 L547.73 574.03 L549.02 574.09 L550.31 574.14 L551.60 574.19 L552.89 574.24 L554.18 574.29 L555.47 574.33 L556.76 574.38 L558.05 574.42 L559.34 574.46 L560.63 574.50 L561.92 574.54 L563.21 574.57 L564.51 574.61 L565.80 574.64 L567.09 574.67 L568.38 574.71 L569.67 574.74 L570.96 574.77 L572.25 574.79 L573.54 574.82 L574.83 574.85 L576.12 574.87 L577.41 574.90 L578.70 574.92 L579.99 574.94 L581.28 574.97 L582.57 574.99 L583.86 575.01 L585.15 575.03 L586.44 575.05 L587.73 575.06 L589.02 575.08 L590.31 575.10 L591.60 575.11 L592.89 575.13 L594.18 575.14 L595.47 575.16 L596.76 575.17 L598.05 575.19 L599.34 575.20 L600.63 575.21 L601.92 575.22 L603.21 575.23 L604.50 575.24 L605.79 575.25 L607.08 575.26 L608.37 575.27 L609.66 575.28 L610.95 575.29 L612.24 575.30 L613.53 575.31 L614.82 575.32 L616.11 575.33 L617.40 575.34 L618.69 575.35 L619.98 575.37 L621.27 575.38 L622.56 575.40 L623.85 575.42 L625.14 575.44 L626.43 575.46 L627.72 575.48 L629.01 575.50 L630.30 575.53 L631.59 575.55 L632.88 575.58 L634.17 575.61 L635.46 575.64 L636.75 575.67 L638.04 575.70 L639.33 575.74 L640.62 575.77 L641.91 575.81 L643.20 575.85 L644.50 575.89 L645.79 575.93 L647.08 575.97 L648.37 576.02 L649.66 576.06 L650.95 576.11 L652.24 576.16 L653.53 576.21 L654.82 576.26 L656.11 576.32 L657.40 576.37 L658.69 576.43 L659.98 576.49 L661.27 576.54 L662.56 576.61 L663.85 576.67 L665.14 576.73 L666.43 576.80 L667.72 576.86 L669.01 576.93 L670.30 577.00 L671.59 577.07 L672.88 577.15 L674.17 577.22 L675.46 577.30 L676.75 577.37 L678.04 577.45 L679.33 577.53 L680.62 577.61 L681.91 577.70 L683.20 577.78" stroke="#000000" stroke-width="2.9" fill="none" stroke-linejoin="round" stroke-linecap="round"/>
<circle cx="207.29" cy="315.74" r="6.8" fill="#800080"/>
<circle cx="254.88" cy="323.74" r="6.8" fill="#800080"/>
<circle cx="302.47" cy="413.26" r="6.8" fill="#800080"/>
<circle cx="350.06" cy="492.52" r="6.8" fill="#800080"/>
<circle cx="397.65" cy="539.89" r="6.8" fill="#800080"/>
<circle cx="445.25" cy="562.36" r="6.8" fill="#800080"/>
<circle cx="492.84" cy="571.27" r="6.8" fill="#800080"/>
<circle cx="540.43" cy="574.31" r="6.8" fill="#800080"/>
<circle cx="588.02" cy="575.20" r="6.8" fill="#800080"/>
<circle cx="635.61" cy="575.67" r="6.8" fill="#800080"/>
<circle cx="207.29" cy="241.72" r="6.8" fill="#800080"/>
<circle cx="254.88" cy="257.35" r="6.8" fill="#800080"/>
<circle cx="302.47" cy="372.01" r="6.8" fill="#800080"/>
<circle cx="350.06" cy="472.64" r="6.8" fill="#800080"/>
<circle cx="397.65" cy="532.25" r="6.8" fill="#800080"/>
<circle cx="445.25" cy="560.02" r="6.8" fill="#800080"/>
<circle cx="492.84" cy="570.73" r="6.8" fill="#800080"/>
<circle cx="540.43" cy="574.22" r="6.8" fill="#800080"/>
<circle cx="588.02" cy="575.20" r="6.8" fill="#800080"/>
<circle cx="635.61" cy="575.67" r="6.8" fill="#800080"/>
<circle cx="207.29" cy="173.81" r="6.8" fill="#800080"/>
<circle cx="254.88" cy="196.83" r="6.8" fill="#800080"/>
<circle cx="302.47" cy="335.85" r="6.8" fill="#800080"/>
<circle cx="350.06" cy="454.88" r="6.8" fill="#800080"/>
<circle cx="397.65" cy="524.58" r="6.8" fill="#800080"/>
<circle cx="445.25" cy="557.04" r="6.8" fill="#800080"/>
<circle cx="492.84" cy="569.68" r="6.8" fill="#800080"/>
<circle cx="540.43" cy="573.89" r="6.8" fill="#800080"/>
<circle cx="588.02" cy="575.11" r="6.8" fill="#800080"/>
<circle cx="635.61" cy="575.65" r="6.8" fill="#800080"/>
<circle cx="207.29" cy="111.79" r="6.8" fill="#800080"/>
<circle cx="254.88" cy="143.71" r="6.8" fill="#800080"/>
<circle cx="302.47" cy="304.78" r="6.8" fill="#800080"/>
<circle cx="350.06" cy="440.02" r="6.8" fill="#800080"/>
<circle cx="397.65" cy="518.42" r="6.8" fill="#800080"/>
<circle cx="445.25" cy="554.77" r="6.8" fill="#800080"/>
<circle cx="492.84" cy="568.93" r="6.8" fill="#800080"/>
<circle cx="540.43" cy="573.67" r="6.8" fill="#800080"/>
<circle cx="588.02" cy="575.05" r="6.8" fill="#800080"/>
<circle cx="635.61" cy="575.63" r="6.8" fill="#800080"/>
<circle cx="207.29" cy="55.75" r="6.8" fill="#800080"/>
<circle cx="254.88" cy="95.02" r="6.8" fill="#800080"/>
<circle cx="302.47" cy="277.23" r="6.8" fill="#800080"/>
<circle cx="350.06" cy="428.24" r="6.8" fill="#800080"/>
<circle cx="397.65" cy="514.53" r="6.8" fill="#800080"/>
<circle cx="445.25" cy="553.83" r="6.8" fill="#800080"/>
<circle cx="492.84" cy="568.80" r="6.8" fill="#800080"/>
<circle cx="540.43" cy="573.69" r="6.8" fill="#800080"/>
<circle cx="588.02" cy="575.07" r="6.8" fill="#800080"/>
<circle cx="635.61" cy="575.64" r="6.8" fill="#800080"/>
<path d="M318.5 477.4V265" stroke="#ff00ff" stroke-width="3" stroke-linecap="round" fill="none"/>
<path d="M318.5 236L342.3 282.5L318.5 264.7L294.8 281.8Z" stroke="#ff00ff" stroke-width="3" fill="none" stroke-linejoin="miter" stroke-miterlimit="3"/>
<path d="M159.70 607.60v-7M159.70 3.80v5M177.15 607.60v-4M177.15 3.80v4M194.60 607.60v-4M194.60 3.80v4M212.05 607.60v-4M212.05 3.80v4M229.50 607.60v-4M229.50 3.80v4M246.95 607.60v-7M246.95 3.80v7M264.40 607.60v-4M264.40 3.80v4M281.85 607.60v-4M281.85 3.80v4M299.30 607.60v-4M299.30 3.80v4M316.75 607.60v-4M316.75 3.80v4M334.20 607.60v-7M334.20 3.80v7M351.65 607.60v-4M351.65 3.80v4M369.10 607.60v-4M369.10 3.80v4M386.55 607.60v-4M386.55 3.80v4M404.00 607.60v-4M404.00 3.80v4M421.45 607.60v-7M421.45 3.80v7M438.90 607.60v-4M438.90 3.80v4M456.35 607.60v-4M456.35 3.80v4M473.80 607.60v-4M473.80 3.80v4M491.25 607.60v-4M491.25 3.80v4M508.70 607.60v-7M508.70 3.80v7M526.15 607.60v-4M526.15 3.80v4M543.60 607.60v-4M543.60 3.80v4M561.05 607.60v-4M561.05 3.80v4M578.50 607.60v-4M578.50 3.80v4M595.95 607.60v-7M595.95 3.80v7M613.40 607.60v-4M613.40 3.80v4M630.85 607.60v-4M630.85 3.80v4M648.30 607.60v-4M648.30 3.80v4M665.75 607.60v-4M665.75 3.80v4M683.20 607.60v-7M683.20 3.80v7M148.50 601.50h4M694.40 601.50h-5M148.50 575.50h7M694.40 575.50h-7M148.50 549.50h4M694.40 549.50h-5M148.50 523.50h4M694.40 523.50h-5M148.50 497.50h4M694.40 497.50h-5M148.50 471.50h4M694.40 471.50h-5M148.50 445.50h7M694.40 445.50h-7M148.50 419.50h4M694.40 419.50h-5M148.50 393.50h4M694.40 393.50h-5M148.50 367.50h4M694.40 367.50h-5M148.50 341.50h4M694.40 341.50h-5M148.50 315.50h7M694.40 315.50h-7M148.50 289.50h4M694.40 289.50h-5M148.50 263.50h4M694.40 263.50h-5M148.50 237.50h4M694.40 237.50h-5M148.50 211.50h4M694.40 211.50h-5M148.50 185.50h7M694.40 185.50h-7M148.50 159.50h4M694.40 159.50h-5M148.50 133.50h4M694.40 133.50h-5M148.50 107.50h4M694.40 107.50h-5M148.50 81.50h4M694.40 81.50h-5M148.50 55.50h7M694.40 55.50h-7M148.50 29.50h4M694.40 29.50h-5" stroke="#666" stroke-width="1.6" fill="none"/>
<rect x="148.5" y="3.8" width="545.90" height="603.80" stroke="#666" stroke-width="1.7" fill="none"/>
<text transform="translate(133.40 644.90) scale(0.975 1.05)" font-family="Liberation Sans" font-size="35" letter-spacing="0.75">0.0</text>
<text transform="translate(220.65 644.90) scale(0.975 1.05)" font-family="Liberation Sans" font-size="35" letter-spacing="0.75">0.5</text>
<path transform="translate(308.20 645.80) scale(0.01666 -0.01794)" d="M763 0L583 0L583 1147C540 1106 483 1065 413 1024C343 983 280 953 225 932L225 1106C324 1153 411 1209 485 1276C559 1343 611 1407 642 1466L763 1466Z" fill="#000"/>
<text transform="translate(327.50 644.90) scale(0.975 1.05)" font-family="Liberation Sans" font-size="35" letter-spacing="0.75">.0</text>
<path transform="translate(395.45 645.80) scale(0.01666 -0.01794)" d="M763 0L583 0L583 1147C540 1106 483 1065 413 1024C343 983 280 953 225 932L225 1106C324 1153 411 1209 485 1276C559 1343 611 1407 642 1466L763 1466Z" fill="#000"/>
<text transform="translate(414.75 644.90) scale(0.975 1.05)" font-family="Liberation Sans" font-size="35" letter-spacing="0.75">.5</text>
<text transform="translate(482.40 644.90) scale(0.975 1.05)" font-family="Liberation Sans" font-size="35" letter-spacing="0.75">2.0</text>
<text transform="translate(569.65 644.90) scale(0.975 1.05)" font-family="Liberation Sans" font-size="35" letter-spacing="0.75">2.5</text>
<text transform="translate(656.90 644.90) scale(0.975 1.05)" font-family="Liberation Sans" font-size="35" letter-spacing="0.75">3.0</text>
<path transform="translate(52.80 586.50) scale(0.01666 -0.01794)" d="M763 0L583 0L583 1147C540 1106 483 1065 413 1024C343 983 280 953 225 932L225 1106C324 1153 411 1209 485 1276C559 1343 611 1407 642 1466L763 1466Z" fill="#000"/>
<text transform="translate(72.10 585.60) scale(0.975 1.05)" font-family="Liberation Sans" font-size="35" letter-spacing="0.75">.000</text>
<path transform="translate(52.80 456.50) scale(0.01666 -0.01794)" d="M763 0L583 0L583 1147C540 1106 483 1065 413 1024C343 983 280 953 225 932L225 1106C324 1153 411 1209 485 1276C559 1343 611 1407 642 1466L763 1466Z" fill="#000"/>
<text transform="translate(72.10 455.60) scale(0.975 1.05)" font-family="Liberation Sans" font-size="35" letter-spacing="0.75">.005</text>
<path transform="translate(52.80 326.50) scale(0.01666 -0.01794)" d="M763 0L583 0L583 1147C540 1106 483 1065 413 1024C343 983 280 953 225 932L225 1106C324 1153 411 1209 485 1276C559 1343 611 1407 642 1466L763 1466Z" fill="#000"/>
<text transform="translate(72.10 325.60) scale(0.975 1.05)" font-family="Liberation Sans" font-size="35" letter-spacing="0.75">.010</text>
<path transform="translate(52.80 196.50) scale(0.01666 -0.01794)" d="M763 0L583 0L583 1147C540 1106 483 1065 413 1024C343 983 280 953 225 932L225 1106C324 1153 411 1209 485 1276C559 1343 611 1407 642 1466L763 1466Z" fill="#000"/>
<text transform="translate(72.10 195.60) scale(0.975 1.05)" font-family="Liberation Sans" font-size="35" letter-spacing="0.75">.015</text>
<path transform="translate(52.80 66.50) scale(0.01666 -0.01794)" d="M763 0L583 0L583 1147C540 1106 483 1065 413 1024C343 983 280 953 225 932L225 1106C324 1153 411 1209 485 1276C559 1343 611 1407 642 1466L763 1466Z" fill="#000"/>
<text transform="translate(72.10 65.60) scale(0.975 1.05)" font-family="Liberation Sans" font-size="35" letter-spacing="0.75">.020</text>
<text x="421" y="696.5" font-family="Liberation Sans" font-style="italic" font-size="36" text-anchor="middle" stroke="#fff" stroke-width="0.4">η</text>
<g transform="translate(33.5 0) rotate(-90)" font-family="Liberation Sans" font-size="37" stroke="#fff" stroke-width="0.7"><text x="-352.20" y="0" text-anchor="middle" font-style="italic">θ</text><text x="-335.80" y="0" text-anchor="middle">(</text><text x="-322.85" y="0" text-anchor="middle" font-style="italic">τ</text><text x="-308.70" y="0" text-anchor="middle">,</text><text x="-294.05" y="0" text-anchor="middle" font-style="italic">ξ</text><text x="-279.20" y="0" text-anchor="middle">,</text><text x="-262.20" y="0" text-anchor="middle" font-style="italic">η</text><text x="-246.50" y="0" text-anchor="middle">)</text></g>
<rect x="264" y="44" width="406.5" height="54.5" fill="#fff"/>
<text transform="translate(264 89.3) scale(1.017 1)" font-family="Liberation Serif" font-weight="bold" font-size="41">M</text>
<path d="M305.2 73.2h22v2.6h-22zM305.2 82.9h22v2.6h-22z" fill="#000"/>
<text transform="translate(328.7 89.3) scale(1.003 1)" font-family="Liberation Serif" font-weight="bold" font-size="41">1.0, 2.0, 3.0, 4.0, 5.0</text>
</svg>
</body></html>
